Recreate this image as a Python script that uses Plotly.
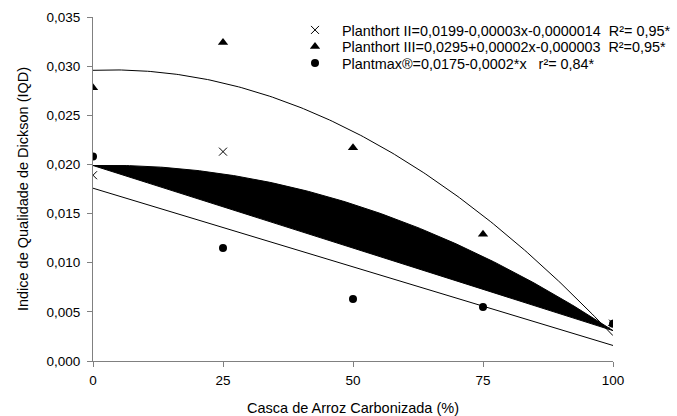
import numpy as np
import plotly.graph_objects as go

# Casca de arroz carbonizada (%) added to each substrate
casca = [0, 25, 50, 75, 100]

# Índice de Qualidade de Dickson per substrate
iqd_planthort_ii = [0.0189, 0.0213, 0.0151, 0.0095, 0.0038]
iqd_planthort_iii = [0.0278, 0.0324, 0.0217, 0.0129, 0.0038]
iqd_plantmax = [0.0208, 0.0115, 0.0063, 0.0055, 0.0038]

legend_names = [
    "Planthort II=0,0199-0,00003x-0,0000014\u00a0\u00a0R²= 0,95*",
    "Planthort III=0,0295+0,00002x-0,000003\u00a0\u00a0R²=0,95*",
    "Plantmax®=0,0175-0,0002*x\u00a0\u00a0\u00a0r²= 0,84*",
]

y_ticks = [0, 0.005, 0.010, 0.015, 0.020, 0.025, 0.030, 0.035]
x_ticks = [0, 25, 50, 75, 100]

FONT = "Liberation Sans, Arial, sans-serif"

# regression curves fitted to the observations
xs = np.linspace(0, 100, 201)
fit_ii = np.polyval(np.polyfit(casca, iqd_planthort_ii, 2), xs)
fit_iii = np.polyval(np.polyfit(casca, iqd_planthort_iii, 2), xs)
fit_max = np.polyval(np.polyfit(casca, iqd_plantmax, 1), xs)

# Planthort II curve shown as a solid wedge between the curve and its chord
chord_ii = fit_ii[0] + (fit_ii[-1] - fit_ii[0]) * xs / 100.0
band_x = np.concatenate([xs, xs[::-1]])
band_y = np.concatenate([fit_ii, chord_ii[::-1]])

fig = go.Figure()

fig.add_trace(go.Scatter(
    x=band_x, y=band_y, mode="lines", fill="toself", fillcolor="black",
    line=dict(color="black", width=1), showlegend=False, hoverinfo="skip"))
fig.add_trace(go.Scatter(
    x=xs, y=fit_iii, mode="lines", line=dict(color="black", width=1),
    showlegend=False, hoverinfo="skip"))
fig.add_trace(go.Scatter(
    x=xs, y=fit_max, mode="lines", line=dict(color="black", width=1),
    showlegend=False, hoverinfo="skip"))

# one legend per series so the rows can sit close together
fig.add_trace(go.Scatter(
    x=casca, y=iqd_planthort_ii, mode="markers", name=legend_names[0],
    legend="legend",
    marker=dict(symbol="x-thin", size=8, color="black",
                line=dict(color="black", width=1))))
fig.add_trace(go.Scatter(
    x=casca, y=iqd_planthort_iii, mode="markers", name=legend_names[1],
    legend="legend2",
    marker=dict(symbol="triangle-up", size=9, color="black")))
fig.add_trace(go.Scatter(
    x=casca, y=iqd_plantmax, mode="markers", name=legend_names[2],
    legend="legend3",
    marker=dict(symbol="circle", size=8, color="black")))

legend_style = dict(
    x=0.375, xanchor="left", yanchor="middle",
    bgcolor="rgba(0,0,0,0)", font=dict(size=14.4), itemwidth=44,
    borderwidth=0)

fig.update_layout(
    width=677, height=416,
    margin=dict(l=93, r=64, t=17, b=55, autoexpand=False),
    paper_bgcolor="white", plot_bgcolor="white",
    separators=", ",
    font=dict(family=FONT, size=13.5, color="black"),
    legend=dict(y=0.962, **legend_style),
    legend2=dict(y=0.914, **legend_style),
    legend3=dict(y=0.866, **legend_style),
    xaxis=dict(
        range=[0, 100], tickvals=x_ticks, ticktext=[str(v) for v in x_ticks],
        showline=True, linecolor="#808080", linewidth=1,
        ticks="outside", ticklen=5, tickcolor="#808080",
        showgrid=False, zeroline=False,
        tickfont=dict(size=13.5), ticklabelstandoff=2,
        title=dict(text="Casca de Arroz Carbonizada (%)", font=dict(size=14.5),
                   standoff=20)),
    yaxis=dict(
        range=[0, 0.035], tickvals=y_ticks, tickformat=".3f",
        showline=True, linecolor="#808080", linewidth=1,
        ticks="outside", ticklen=5, tickcolor="#808080",
        showgrid=False, zeroline=False,
        tickfont=dict(size=13.5), ticklabelstandoff=4,
        title=dict(text="Indice de Qualidade de Dickson (IQD)",
                   font=dict(size=14.5), standoff=14)),
)

fig.write_html("out.html")
